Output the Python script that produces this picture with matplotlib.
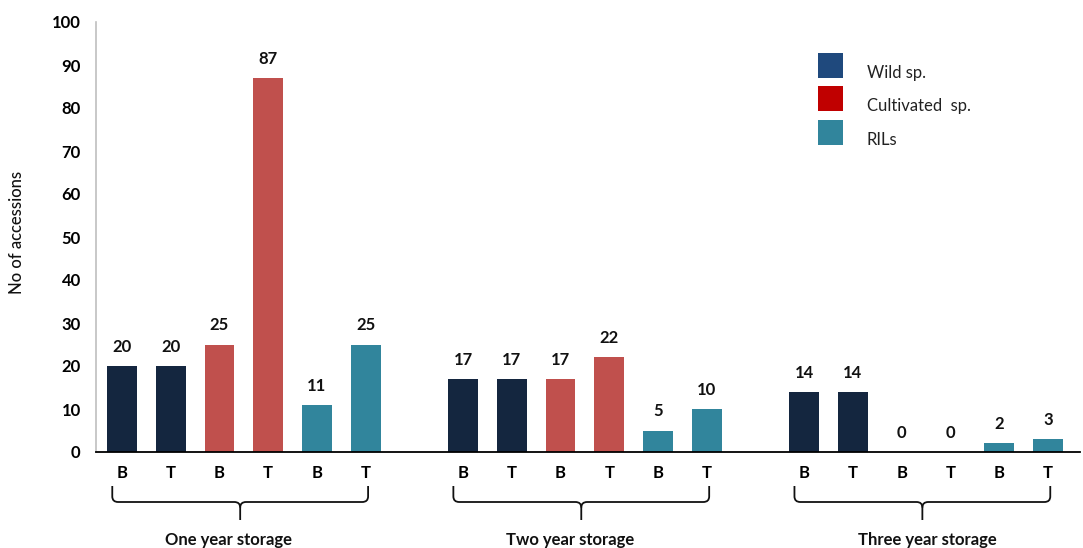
import matplotlib
matplotlib.use("Agg")
import matplotlib.pyplot as plt
from matplotlib.path import Path
from matplotlib.patches import PathPatch, Rectangle
from matplotlib.transforms import blended_transform_factory

plt.rcParams['font.family'] = ['Lato', 'DejaVu Sans']

# ---- data ----
groups = ["One year storage", "Two year storage", "Three year storage"]
bar_labels = ["B", "T", "B", "T", "B", "T"]
series = ["Wild sp.", "Cultivated  sp.", "RILs"]
values = [
    [20, 20, 25, 87, 11, 25],
    [17, 17, 17, 22, 5, 10],
    [14, 14, 0, 0, 2, 3],
]
bar_series = [0, 0, 1, 1, 2, 2]
bar_colors = ["#14263F", "#C0504D", "#31859C"]
legend_colors = ["#1F497D", "#C00000", "#31859C"]
yticks = [0, 10, 20, 30, 40, 50, 60, 70, 80, 90, 100]

W, H = 1083, 548
fig = plt.figure(figsize=(W / 100, H / 100), dpi=100)
ax = fig.add_axes([96 / W, 1 - 452 / H, (1080 - 96) / W, 430 / H])

positions = []
for g in range(len(groups)):
    for i in range(6):
        positions.append(g * 7 + i)

for g, vals in enumerate(values):
    for i, v in enumerate(vals):
        x = g * 7 + i
        ax.bar(x, v, width=0.61, color=bar_colors[bar_series[i]], zorder=2)
        ax.annotate(str(v), (x, v), xytext=(0, 8), textcoords="offset points",
                    ha="center", va="bottom", fontsize=12, fontweight="bold",
                    color="#111111")

ax.set_xlim(-0.534, 19.66)
ax.set_ylim(0, 100)
ax.set_yticks(yticks)
ax.set_yticklabels([str(t) for t in yticks], fontsize=12, fontweight="bold")
ax.tick_params(axis="y", length=0, pad=11)
ax.set_xticks(positions)
ax.set_xticklabels(bar_labels * 3, fontsize=12, fontweight="bold")
ax.tick_params(axis="x", length=0, pad=9)
for s in ["top", "right"]:
    ax.spines[s].set_visible(False)
ax.spines["left"].set_color("#BFBFBF")
ax.spines["left"].set_linewidth(1.2)
ax.spines["bottom"].set_color("black")
ax.spines["bottom"].set_linewidth(1.3)

ax.set_ylabel("No of accessions", fontsize=12, fontweight="medium", color="#111111")
ax.yaxis.set_label_coords((25 - 96) / 984, (452 - 232) / 430)

# braces (pixel y from figure top converted to axes fraction)
def ay(py):
    return (452 - py) / 430.0

trans = blended_transform_factory(ax.transData, ax.transAxes)
label_offsets = [-0.23, -0.23, 0.1]
for g, name in enumerate(groups):
    x0 = g * 7 - 0.2
    x1 = g * 7 + 5.05
    xm = (x0 + x1) / 2
    yt, yh, yb = ay(486), ay(502), ay(520)
    r = 0.12
    rh = (yt - yh) * 0.35
    verts = [(x0, yt), (x0, yh + rh), (x0, yh), (x0 + r, yh),
             (xm - r, yh), (xm, yh), (xm, yh - rh), (xm, yb)]
    codes = [Path.MOVETO, Path.LINETO, Path.CURVE3, Path.CURVE3,
             Path.LINETO, Path.CURVE3, Path.CURVE3, Path.LINETO]
    verts2 = [(x1, yt), (x1, yh + rh), (x1, yh), (x1 - r, yh),
              (xm + r, yh), (xm, yh), (xm, yh - rh)]
    codes2 = [Path.MOVETO, Path.LINETO, Path.CURVE3, Path.CURVE3,
              Path.LINETO, Path.CURVE3, Path.CURVE3]
    for vv, cc in ((verts, codes), (verts2, codes2)):
        ax.add_patch(PathPatch(Path(vv, cc), transform=trans, fill=False,
                               lw=1.3, edgecolor="#111111", clip_on=False))
    ax.text(xm + label_offsets[g], ay(540), name, transform=trans, ha="center",
            va="center", fontsize=12, fontweight="bold", color="#111111")

# legend
for i, name in enumerate(series):
    top = 53 + i * 33.5
    fig.patches.append(Rectangle((818 / W, 1 - (top + 25) / H), 25 / W, 25 / H,
                                 transform=fig.transFigure, facecolor=legend_colors[i],
                                 edgecolor="none"))
    fig.text(867 / W, 1 - (top + 20) / H, name, ha="left", va="center",
             fontsize=12, color="#222222")

fig.savefig("out.png", dpi=100)
